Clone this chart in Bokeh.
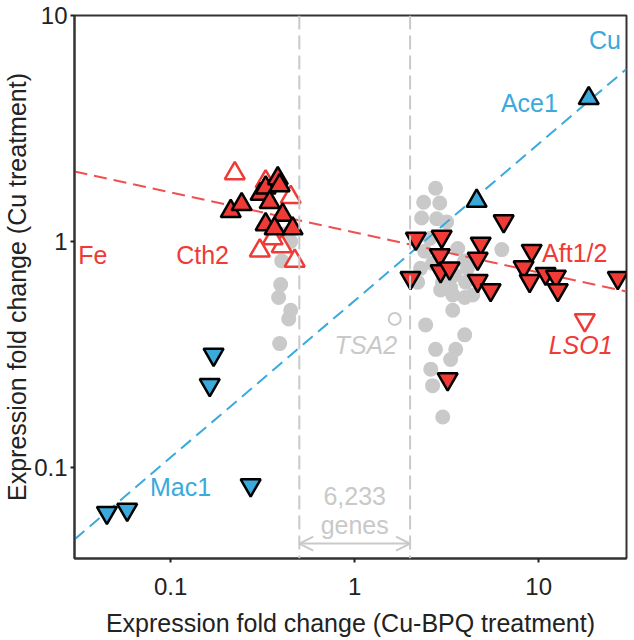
from bokeh.plotting import figure
from bokeh.models import (ColumnDataSource, FixedTicker, CustomJSTickFormatter,
                          Span, Arrow, OpenHead)
from bokeh.core.properties import value
from bokeh.embed import file_html
from bokeh.resources import INLINE

FONT = "Liberation Sans"
RED = "#ef3a36"
BLUE = "#3aa9dc"
GRAY = "#c9c9c9"

# ---------------- data ----------------
x_ticks = [0.1, 1, 10]
y_ticks = [0.1, 1, 10]

# unchanged genes (grey dots)
gray_x = [0.401, 0.396, 0.386, 0.449, 0.438, 0.391, 0.449, 0.42,
          2.75, 2.37, 2.90, 2.31, 2.79, 3.16, 6.3, 2.40, 3.63, 3.96, 2.28, 3.5,
          4.01, 3.32, 2.2, 2.93, 3.41, 3.96, 4.38, 3.41, 2.43, 3.96, 2.75, 3.54,
          3.32, 2.59, 2.65, 3.01, 2.56, 2.65, 4.1, 3.0]
gray_y = [0.82, 0.644, 0.565, 0.496, 0.454, 0.353, 1.0, 1.08,
          1.72, 1.49, 1.48, 1.27, 1.26, 1.22, 0.92, 0.905, 0.93, 0.82, 0.76, 0.71,
          0.66, 0.625, 0.66, 0.61, 0.58, 0.565, 0.58, 0.496, 0.427, 0.386, 0.333, 0.333,
          0.30, 0.272, 0.23, 0.167, 1.03, 0.80, 0.76, 0.66]

# TSA2 (open grey circle)
tsa2_x = [1.65]
tsa2_y = [0.454]

# Cth2 targets, filled red up-triangles
cth2_x = [0.212, 0.243, 0.308, 0.328, 0.345, 0.382, 0.391, 0.406, 0.328, 0.367, 0.46]
cth2_y = [1.36, 1.46, 1.62, 1.73, 1.49, 1.90, 1.77, 1.31, 1.19, 1.14, 1.14]

# open red up-triangles
cth2o_x = [0.223, 0.449, 0.328, 0.305, 0.401, 0.472, 0.358]
cth2o_y = [2.0, 1.57, 1.84, 0.91, 0.95, 0.82, 1.03]

# Aft1/2 targets, filled red down-triangles
aft_x = [2.15, 2.97, 2.90, 2.93, 3.28, 2.01, 4.84, 4.66, 4.66, 5.48,
         6.45, 9.16, 8.28, 8.93, 10.9, 12.4, 12.7, 26.9, 3.2]
aft_y = [1.03, 1.05, 0.87, 0.74, 0.76, 0.69, 0.98, 0.84, 0.67, 0.61,
         1.23, 0.91, 0.77, 0.67, 0.72, 0.70, 0.61, 0.69, 0.246]

# LSO1 (open red down-triangle)
lso1_x = [17.8]
lso1_y = [0.449]

# Ace1 targets, blue up-triangles
ace1_x = [18.7, 4.6]
ace1_y = [4.3, 1.51]

# Mac1 targets, blue down-triangles
mac1_x = [0.045, 0.058, 0.272, 0.171, 0.163]
mac1_y = [0.063, 0.065, 0.0835, 0.316, 0.232]

# trend lines
cu_line_x = [0.03, 30]
cu_line_y = [0.048, 5.8]
fe_line_x = [0.03, 30]
fe_line_y = [2.04, 0.60]

# unchanged-gene window
window_x = [0.5, 2]
window_arrow_y = 0.046

# labels
lab_text = ["Cu", "Ace1", "Fe", "Cth2", "Aft1/2", "LSO1", "TSA2", "Mac1", "6,233", "genes"]
lab_x = [22.9, 8.9, 0.0377, 0.149, 15.7, 16.9, 1.15, 0.113, 1.0, 1.0]
lab_y = [7.8, 4.1, 0.87, 0.87, 0.887, 0.349, 0.349, 0.082, 0.0748, 0.0554]
lab_color = [BLUE, BLUE, RED, RED, RED, RED, GRAY, BLUE, GRAY, GRAY]
lab_style = ["normal", "normal", "normal", "normal", "normal", "italic", "italic",
             "normal", "normal", "normal"]

# ---------------- figure ----------------
p = figure(x_axis_type="log", y_axis_type="log",
           x_range=(0.03, 30), y_range=(0.0395, 10),
           frame_width=552, frame_height=543,
           min_border_left=69, min_border_right=5, min_border_top=15, min_border_bottom=10,
           output_backend="svg", toolbar_location=None)
p.background_fill_color = "white"
p.border_fill_color = "white"
p.outline_line_color = "#333333"
p.outline_line_width = 2
p.grid.visible = False

fmt = CustomJSTickFormatter(code="return tick.toString()")
for ax, ticks in ((p.xaxis, x_ticks), (p.yaxis, y_ticks)):
    ax.ticker = FixedTicker(ticks=ticks)
    ax.formatter = fmt
    ax.minor_tick_line_color = None
    ax.major_tick_in = 0
    ax.major_tick_out = 4
    ax.major_tick_line_color = "#222222"
    ax.major_tick_line_width = 2
    ax.axis_line_color = "#333333"
    ax.axis_line_width = 2
    ax.major_label_text_font = FONT
    ax.major_label_text_font_size = "24px"
    ax.major_label_text_color = "#222222"
    ax.axis_label_text_font = FONT
    ax.axis_label_text_font_size = "25px"
    ax.axis_label_text_font_style = "normal"
    ax.axis_label_text_color = "#222222"

p.xaxis.axis_label = "Expression fold change (Cu-BPQ treatment)"
p.yaxis.axis_label = "Expression fold change (Cu treatment)"
p.xaxis.major_label_standoff = 15
p.xaxis.axis_label_standoff = 11
p.yaxis.major_label_standoff = 3
p.yaxis.axis_label_standoff = 0

# grey dots
p.scatter(gray_x, gray_y, marker="circle", size=15, fill_color=GRAY, line_color=None)
p.scatter(tsa2_x, tsa2_y, marker="circle", size=12, fill_color=None,
          line_color=GRAY, line_width=2)

# window lines and arrow
for xv in window_x:
    p.add_layout(Span(location=xv, dimension="height", line_color=GRAY,
                      line_width=2, line_dash="14 6"))
p.add_layout(Arrow(start=OpenHead(size=14, line_color=GRAY, line_width=2),
                   end=OpenHead(size=14, line_color=GRAY, line_width=2),
                   x_start=window_x[0], y_start=window_arrow_y,
                   x_end=window_x[1], y_end=window_arrow_y,
                   line_color=GRAY, line_width=2))

# trend lines
p.line(cu_line_x, cu_line_y, line_color=BLUE, line_width=2, line_dash="13 7")
p.line(fe_line_x, fe_line_y, line_color="#f05050", line_width=2, line_dash="13 7")

# triangles
p.scatter(cth2o_x, cth2o_y, marker="triangle", size=20, fill_color="white",
          line_color=RED, line_width=2.5)
p.scatter(lso1_x, lso1_y, marker="inverted_triangle", size=20, fill_color="white",
          line_color=RED, line_width=2.5)
p.scatter(cth2_x, cth2_y, marker="triangle", size=20, fill_color=RED,
          line_color="black", line_width=2.5)
p.scatter(aft_x, aft_y, marker="inverted_triangle", size=20, fill_color=RED,
          line_color="black", line_width=2.5)
p.scatter(ace1_x, ace1_y, marker="triangle", size=20, fill_color=BLUE,
          line_color="black", line_width=2.5)
p.scatter(mac1_x, mac1_y, marker="inverted_triangle", size=20, fill_color=BLUE,
          line_color="black", line_width=2.5)

# labels
src = ColumnDataSource(dict(x=lab_x, y=lab_y, text=lab_text, color=lab_color, style=lab_style))
p.text(x="x", y="y", text="text", source=src, text_color="color",
       text_font_style="style", text_font=value(FONT), text_font_size=value("25px"),
       text_align="center", text_baseline="middle")

open("out.html", "w").write(file_html(p, INLINE))
